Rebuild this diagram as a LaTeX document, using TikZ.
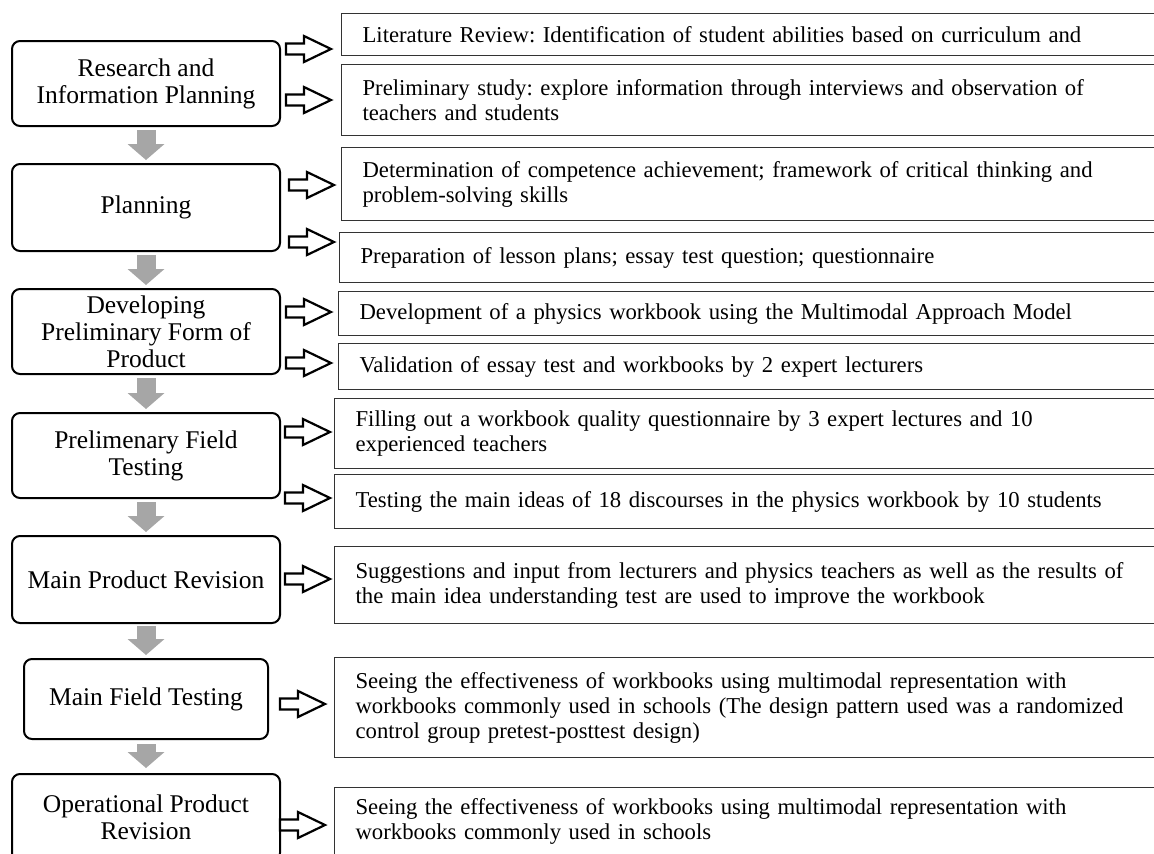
\documentclass[tikz,border=0pt]{standalone}
\usepackage{fontspec}
\setmainfont{Liberation Serif}
\usetikzlibrary{arrows.meta}
\frenchspacing

\tikzset{
  stage/.style={draw, line width=2pt, rounded corners=8pt, anchor=north west,
    minimum width=268pt, align=center, inner sep=1pt,
    font=\fontsize{25.5}{27}\selectfont},
  detail/.style={draw=black!80, line width=1.2pt, anchor=north west,
    minimum width=850pt, text width=808pt, inner xsep=21pt, inner ysep=2pt,
    align=left, font=\fontsize{22.7}{25}\selectfont},
  nextstep/.style={line width=19pt, draw=black!35,
    -{Triangle[width=37pt,length=16pt,line width=0pt]}},
  hollow/.pic={\draw[line width=2.2pt, fill=white, line join=miter]
    (0,-5.5) -- (18,-5.5) -- (18,-13) -- (45,0) -- (18,13) -- (18,5.5) -- (0,5.5) -- cycle;}
}

\begin{document}
\begin{tikzpicture}[x=1pt,y=-1pt]
          \clip (0,0) rectangle (1154,854);
          % stages
          \node[stage, minimum height=85pt] (research) at (11,40) {Research and\\Information Planning};
          \node[stage, minimum height=87pt] (planning) at (11,163) {Planning};
          \node[stage, minimum height=85pt] (develop) at (11,288) {Developing\\Preliminary Form of\\Product};
          \node[stage, minimum height=85pt] (prelim) at (11,412) {Prelimenary Field\\Testing};
          \node[stage, minimum height=87pt] (revision) at (11,535) {Main Product Revision};
          \node[stage, minimum height=80pt, minimum width=244pt] (mainfield) at (23,658) {Main Field Testing};
          \node[stage, minimum height=87pt] (operational) at (11,773) {Operational Product\\Revision};
          % details
          \node[detail, minimum height=42pt] (lit) at (341,13) {Literature Review: Identification of student abilities based on curriculum and};
          \node[detail, minimum height=71pt] (study) at (341,64) {Preliminary study: explore information through interviews and observation of\\teachers and students};
          \node[detail, minimum height=73pt] (compet) at (341,147) {Determination of competence achievement; framework of critical thinking and\\problem-solving skills};
          \node[detail, minimum height=50pt] (lesson) at (339,232) {Preparation of lesson plans; essay test question; questionnaire};
          \node[detail, minimum height=44pt] (devbook) at (338,291) {Development of a physics workbook using the Multimodal Approach Model};
          \node[detail, minimum height=46pt] (valid) at (338,343) {Validation of essay test and workbooks by 2 expert lecturers};
          \node[detail, minimum height=70pt] (fill) at (334,398) {Filling out a workbook quality questionnaire by 3 expert lectures and 10\\experienced teachers};
          \node[detail, minimum height=54pt] (ideas) at (334,474) {Testing the main ideas of 18 discourses in the physics workbook by 10 students};
          \node[detail, minimum height=77pt] (suggest) at (334,546) {Suggestions and input from lecturers and physics teachers as well as the results of\\the main idea understanding test are used to improve the workbook};
          \node[detail, minimum height=100pt] (effect) at (334,657) {Seeing the effectiveness of workbooks using multimodal representation with\\workbooks commonly used in schools (The design pattern used was a randomized\\control group pretest-posttest design)};
          \node[detail, minimum height=68pt] (effecttwo) at (334,787) {Seeing the effectiveness of workbooks using multimodal representation with\\workbooks commonly used in schools};
          % down arrows
          \draw[nextstep] ([yshift=-3pt]research.south) -- ([yshift=3pt]planning.north);
          \draw[nextstep] ([yshift=-3pt]planning.south) -- ([yshift=3pt]develop.north);
          \draw[nextstep] ([yshift=-3pt]develop.south) -- ([yshift=3pt]prelim.north);
          \draw[nextstep] ([yshift=-3pt]prelim.south) -- ([yshift=3pt]revision.north);
          \draw[nextstep] ([yshift=-2pt]revision.south) -- ([yshift=3pt]mainfield.north);
          \draw[nextstep] ([yshift=-4pt]mainfield.south) -- ([yshift=5pt]operational.north);
          % side arrows
          \pic at (286,49) {hollow};
          \pic at (286,100) {hollow};
          \pic at (289,185) {hollow};
          \pic at (289,242) {hollow};
          \pic at (286,312) {hollow};
          \pic at (286,363) {hollow};
          \pic at (285,432) {hollow};
          \pic at (285,498) {hollow};
          \pic at (285,579) {hollow};
          \pic at (280,704) {hollow};
          \pic at (280,825) {hollow};
        \end{tikzpicture}
\end{document}
